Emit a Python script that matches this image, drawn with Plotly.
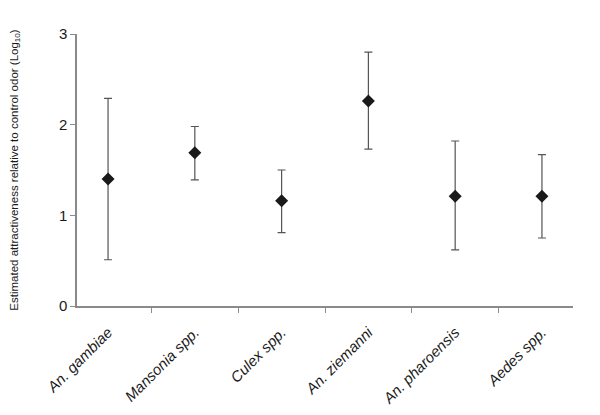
import plotly.graph_objects as go

# species and estimates
species = ["An. gambiae", "Mansonia spp.", "Culex spp.", "An. ziemanni", "An. pharoensis", "Aedes spp."]
estimate = [1.40, 1.69, 1.16, 2.26, 1.21, 1.21]
upper = [2.29, 1.98, 1.50, 2.80, 1.82, 1.67]
lower = [0.51, 1.39, 0.81, 1.73, 0.62, 0.75]

err_plus = [u - e for u, e in zip(upper, estimate)]
err_minus = [e - l for e, l in zip(estimate, lower)]
labels = ["<i>%s</i>" % s for s in species]

fig = go.Figure(
    go.Scatter(
        x=labels,
        y=estimate,
        mode="markers",
        marker=dict(symbol="diamond", size=10, color="#1a1a1a"),
        error_y=dict(
            type="data",
            symmetric=False,
            array=err_plus,
            arrayminus=err_minus,
            color="#555555",
            thickness=1.2,
            width=4,
        ),
        showlegend=False,
    )
)

# page has an 8px body margin, so the figure is a little smaller than the window
fig.update_layout(
    width=592,
    height=407,
    margin=dict(l=69, r=27, t=26, b=109),
    plot_bgcolor="white",
    paper_bgcolor="white",
    font=dict(family="Liberation Sans, Arial, sans-serif", color="#1a1a1a"),
    xaxis=dict(
        showline=True,
        linecolor="#8a8a8a",
        linewidth=1.5,
        ticks="outside",
        tickson="boundaries",
        ticklen=5,
        tickcolor="#8a8a8a",
        tickangle=-45,
        tickfont=dict(size=15, color="#1a1a1a"),
        ticklabelstandoff=10,
        showgrid=False,
        zeroline=False,
        automargin=False,
    ),
    yaxis=dict(
        range=[0, 3],
        tickvals=[0, 1, 2, 3],
        showline=True,
        linecolor="#8a8a8a",
        linewidth=1.5,
        ticks="outside",
        ticklen=5,
        tickcolor="#8a8a8a",
        tickfont=dict(size=15, color="#1a1a1a"),
        showgrid=False,
        zeroline=False,
        automargin=False,
        title=dict(
            text="Estimated attractiveness relative to control odor (Log<sub>10</sub>)",
            font=dict(size=11.5, color="#1a1a1a"),
            standoff=43,
        ),
    ),
)

fig.write_html("out.html")
